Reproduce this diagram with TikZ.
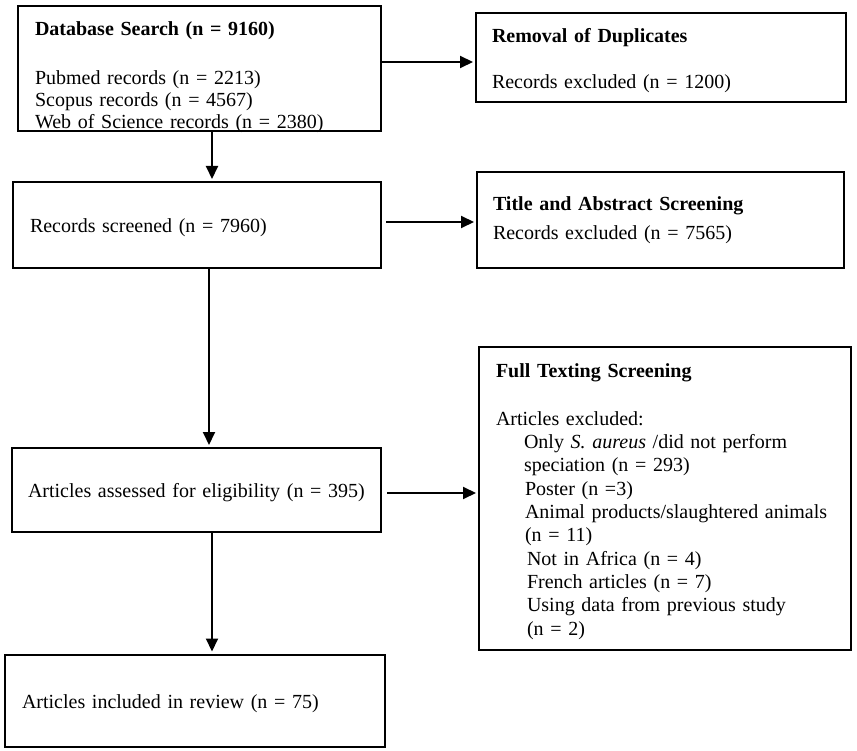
\documentclass[tikz,border=0pt]{standalone}
\usepackage{fontspec}
\setmainfont{Liberation Serif}
\usetikzlibrary{arrows.meta}

\begin{document}
\begin{tikzpicture}[
    x=1pt, y=-1pt,
    every node/.style={font=\fontsize{20}{22.6}\selectfont},
    box/.style={draw, line width=2pt, rectangle, inner ysep=0pt, align=left},
    lift/.style={execute at begin node=\rule{0pt}{20pt}},
    arr/.style={line width=2pt, -{Triangle[length=13pt,width=12pt]}, shorten >=2pt}
]
\useasboundingbox (0,0) rectangle (857,751);

% Sinistra
\node[box, minimum width=363pt, minimum height=125pt, inner xsep=17pt, text width=329pt,
    text height=30pt, text depth=95pt]
    (search) at (199.5,68.5) {\textbf{Database Search (n = 9160)}\\[26pt]
    Pubmed records (n = 2213)\\[-0.6pt]
    Scopus records (n = 4567)\\[-0.6pt]
    Web of Science records (n = 2380)};
\node[box, lift, minimum width=368pt, minimum height=86pt, inner xsep=17pt, text width=334pt]
    (screen) at (197,225) {Records screened (n = 7960)};
\node[box, lift, minimum width=369pt, minimum height=84pt, inner xsep=16pt, text width=337pt]
    (assess) at (196.5,490) {Articles assessed for eligibility (n = 395)};
\node[box, lift, minimum width=380pt, minimum height=92pt, inner xsep=17pt, text width=346pt]
    (incl) at (195,700.5) {Articles included in review (n = 75)};

% Destra
\node[box, lift, minimum width=370pt, minimum height=89pt, inner xsep=16pt, text width=338pt]
    (dup) at (661,57.5) {\textbf{Removal of Duplicates}\\[24pt]
    Records excluded (n = 1200)};
\node[box, minimum width=367pt, minimum height=96pt, inner xsep=16pt, text width=335pt]
    (title) at (660.5,220) {\textbf{Title and Abstract Screening}\\[7pt]
    Records excluded (n = 7565)};
\node[box, lift, minimum width=372pt, minimum height=303pt, inner xsep=17pt, text width=338pt]
    (full) at (665,498.5) {\textbf{Full Texting Screening}\\[25pt]
    Articles excluded:\\[0.7pt]
    \hspace*{28pt}Only \textit{S. aureus} /did not perform\\[0.7pt]
    \hspace*{28pt}speciation (n = 293)\\[0.7pt]
    \hspace*{29pt}Poster (n =3)\\[0.7pt]
    \hspace*{29pt}Animal products/slaughtered animals\\[0.7pt]
    \hspace*{29pt}(n = 11)\\[0.7pt]
    \hspace*{31pt}Not in Africa (n = 4)\\[0.7pt]
    \hspace*{31pt}French articles (n = 7)\\[0.7pt]
    \hspace*{31pt}Using data from previous study\\[0.7pt]
    \hspace*{31pt}(n = 2)};

% Frecce
\draw[arr] ([yshift=6.5pt]search.east) -- ([yshift=6.5pt]search.east -| dup.west);
\draw[arr] ([xshift=4pt,yshift=3pt]screen.east) -- ([yshift=3pt]screen.east -| title.west);
\draw[arr] ([xshift=5pt,yshift=-3pt]assess.east) -- ([yshift=-3pt]assess.east -| full.west);
\draw[arr] ([xshift=12.5pt]search.south) -- ([xshift=12.5pt]search.south |- screen.north);
\draw[arr] ([xshift=12pt]screen.south) -- ([xshift=12pt]screen.south |- assess.north);
\draw[arr] ([xshift=15.5pt]assess.south) -- ([xshift=15.5pt]assess.south |- incl.north);
\end{tikzpicture}
\end{document}
